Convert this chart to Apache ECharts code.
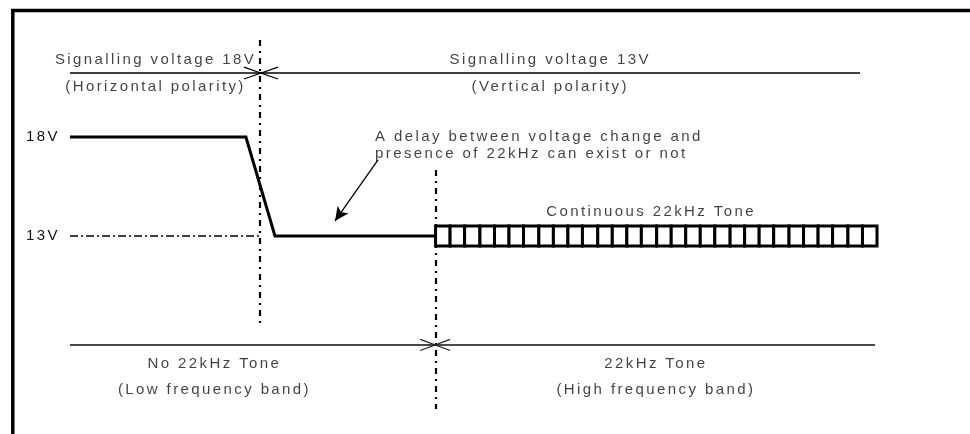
<!DOCTYPE html>
<html>
<head>
<meta charset="utf-8">
<script src="https://cdn.jsdelivr.net/npm/echarts@6/dist/echarts.min.js"></script>
<style>
  html, body { margin: 0; padding: 0; background: #fff; }
  #main { width: 970px; height: 434px; }
</style>
</head>
<body>
<div id="main"></div>
<script>
// 18V -> 13V switch, then the 22kHz tone (time in arbitrary units, 0..100)
const signalT = [0, 21.8, 25.4, 45.3]
const signalV = [18, 18, 13, 13]
const voltTicks = [13, 18]
// edges of the tone cells
const toneEdges = [45.3, 47.1, 48.9, 50.8, 52.6, 54.4, 56.2, 58.1, 59.9, 61.7, 63.5,
  65.4, 67.2, 69.0, 70.8, 72.7, 74.5, 76.3, 78.1, 79.9, 81.8, 83.6, 85.4, 87.2,
  89.1, 90.9, 92.7, 94.5, 96.4, 98.2, 100.0]
const toneLevel = [12.5, 13.5]
const switchT = [23.5, 45.3] // voltage change, tone start
const noteTexts = ['Signalling voltage 18V', '(Horizontal polarity)',
  'Signalling voltage 13V', '(Vertical polarity)',
  'A delay between voltage change and', 'presence of 22kHz can exist or not',
  'Continuous 22kHz Tone',
  'No 22kHz Tone', '(Low frequency band)', '22kHz Tone', '(High frequency band)']
const noteT = [10.6, 10.6, 59.5, 59.5, 37.8, 37.8, 72.0, 17.9, 17.9, 72.6, 72.6]
const noteV = [21.89, 20.53, 21.89, 20.53, 18.03, 17.14, 14.21, 6.54, 5.22, 6.54, 5.22]

// the original text is widely spaced, canvas needs a hand for that
const SPACING = '2.4px'
const _fill = CanvasRenderingContext2D.prototype.fillText
CanvasRenderingContext2D.prototype.fillText = function () {
  this.letterSpacing = SPACING
  return _fill.apply(this, arguments)
}
const _measure = CanvasRenderingContext2D.prototype.measureText
CanvasRenderingContext2D.prototype.measureText = function () {
  this.letterSpacing = SPACING
  return _measure.apply(this, arguments)
}

const FONT = "'Liberation Sans', Arial, sans-serif"
const dashDot = [6, 5, 2, 5]

const chart = echarts.init(document.getElementById('main'))

const signal = signalT.map((t, i) => [t, signalV[i]])
const cells = toneEdges.slice(0, -1).map((t, i) => [t, toneEdges[i + 1]])
const notes = noteTexts.map((s, i) => ({
  name: s,
  value: [noteT[i], noteV[i]],
  label: { align: i === 4 || i === 5 ? 'left' : 'center' }
}))

chart.setOption({
  animation: false,
  backgroundColor: '#fff',
  textStyle: { fontFamily: FONT },
  grid: { left: 70, right: 93, top: 38, height: 396 },
  xAxis: { type: 'value', min: 0, max: 100, show: false },
  yAxis: {
    type: 'value',
    min: 3,
    max: 23,
    interval: 1,
    axisLine: { show: false },
    axisTick: { show: false },
    splitLine: { show: false },
    axisLabel: {
      margin: 10,
      color: '#111',
      fontSize: 15,
      fontFamily: FONT,
      formatter: v => voltTicks.indexOf(v) >= 0 ? v + 'V' : ''
    }
  },
  graphic: [{
    type: 'polyline',
    shape: { points: [[12.8, 434], [12.8, 10.5], [970, 10.5]] },
    style: { stroke: '#000', lineWidth: 3.5, fill: null }
  }],
  series: [
    {
      name: 'ref13',
      type: 'line',
      data: [[0, 13], [switchT[0], 13]],
      symbol: 'none',
      lineStyle: { color: '#000', width: 1.3, type: [8, 3, 2, 3] },
      markLine: {
        silent: true,
        symbol: 'none',
        label: { show: false },
        data: [
          // switch moments
          [{ coord: [switchT[0], 22.9], lineStyle: { color: '#000', width: 2.2, type: dashDot } }, { coord: [switchT[0], 8.5] }],
          [{ coord: [switchT[1], 16.33], lineStyle: { color: '#000', width: 2.2, type: dashDot } }, { coord: [switchT[1], 4.26] }],
          // polarity span
          [{ coord: [0, 21.23], lineStyle: { color: '#000', width: 1.5, type: 'solid' } }, { coord: [97.9, 21.23] }],
          [{ coord: [21.56, 21.53], lineStyle: { color: '#000', width: 1.2, type: 'solid' } }, { coord: [25.77, 20.93] }],
          [{ coord: [21.56, 20.93], lineStyle: { color: '#000', width: 1.2, type: 'solid' } }, { coord: [25.77, 21.53] }],
          // tone span
          [{ coord: [0, 7.5], lineStyle: { color: '#4a4a4a', width: 2, type: 'solid' } }, { coord: [99.75, 7.5] }],
          [{ coord: [43.4, 7.78], lineStyle: { color: '#222', width: 1.2, type: 'solid' } }, { coord: [47.1, 7.22] }],
          [{ coord: [43.4, 7.22], lineStyle: { color: '#222', width: 1.2, type: 'solid' } }, { coord: [47.1, 7.78] }],
          // pointer to the delay
          [{ coord: [38.17, 16.84], symbol: 'none', lineStyle: { color: '#000', width: 1.3, type: 'solid' } },
            { coord: [32.84, 13.76], symbol: 'arrow', symbolSize: [10, 14] }]
        ]
      }
    },
    {
      name: 'voltage',
      type: 'line',
      data: signal,
      symbol: 'none',
      z: 5,
      lineStyle: { color: '#000', width: 3, join: 'miter' }
    },
    {
      name: 'tone',
      type: 'custom',
      data: cells,
      z: 5,
      renderItem: (params, api) => {
        const p0 = api.coord([api.value(0), toneLevel[1]])
        const p1 = api.coord([api.value(1), toneLevel[0]])
        return {
          type: 'rect',
          shape: { x: p0[0], y: p0[1], width: p1[0] - p0[0], height: p1[1] - p0[1] },
          style: { fill: '#fff', stroke: '#000', lineWidth: 3 }
        }
      }
    },
    {
      name: 'notes',
      type: 'scatter',
      data: notes,
      symbolSize: 0,
      z: 6,
      label: {
        show: true,
        position: 'inside',
        formatter: '{b}',
        color: '#111',
        fontSize: 15,
        fontFamily: FONT,
        verticalAlign: 'middle'
      }
    }
  ]
})
</script>
</body>
</html>
